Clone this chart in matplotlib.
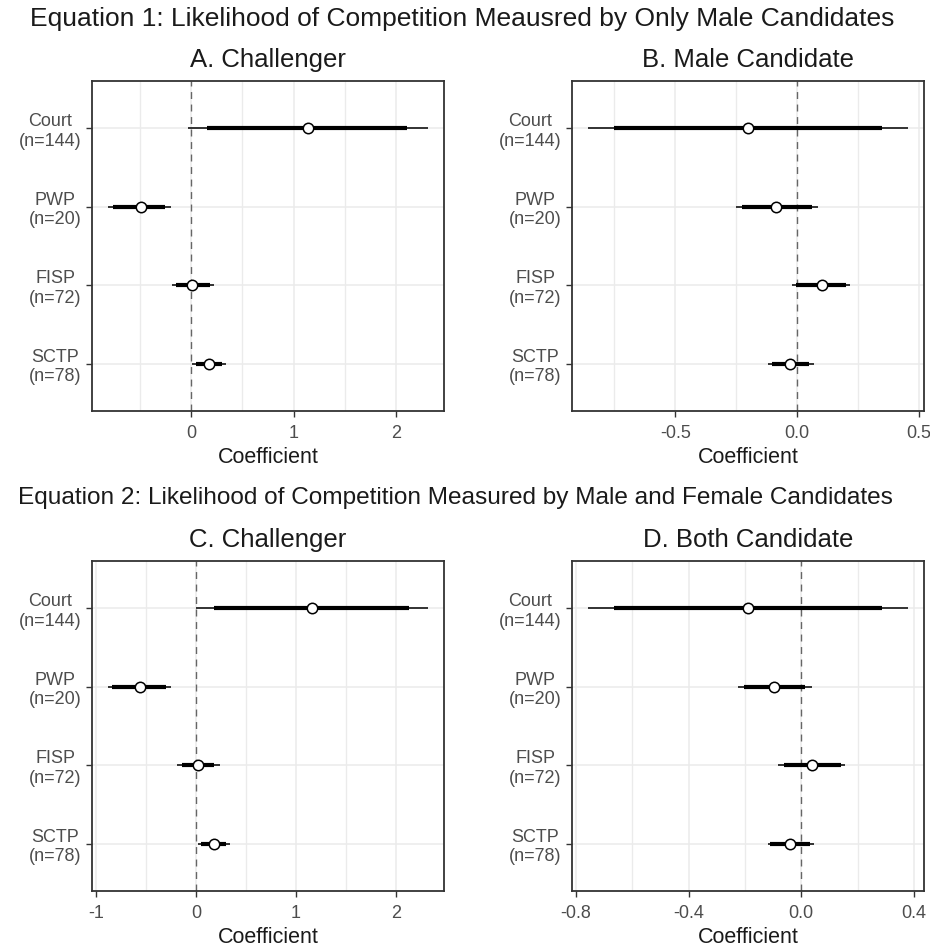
import numpy as np
import matplotlib.pyplot as plt
from matplotlib.ticker import MultipleLocator, FormatStrFormatter

plt.rcParams['font.family'] = ['Liberation Sans', 'DejaVu Sans']
plt.rcParams['axes.unicode_minus'] = False

programs = ["Court\n(n=144)", "PWP\n(n=20)", "FISP\n(n=72)", "SCTP\n(n=78)"]

# A. Challenger (equation 1)
a_est = [1.14, -0.49, 0.01, 0.17]
a_in_lo = [0.16, -0.76, -0.15, 0.05]
a_in_hi = [2.11, -0.25, 0.18, 0.30]
a_out_lo = [-0.03, -0.81, -0.19, 0.01]
a_out_hi = [2.31, -0.20, 0.22, 0.34]

# B. Male Candidate (equation 1)
b_est = [-0.202, -0.086, 0.103, -0.029]
b_in_lo = [-0.752, -0.226, -0.004, -0.104]
b_in_hi = [0.348, 0.060, 0.198, 0.050]
b_out_lo = [-0.858, -0.250, -0.020, -0.120]
b_out_hi = [0.454, 0.085, 0.217, 0.068]

# C. Challenger (equation 2)
c_est = [1.156, -0.56, 0.02, 0.18]
c_in_lo = [0.18, -0.84, -0.14, 0.05]
c_in_hi = [2.13, -0.30, 0.18, 0.30]
c_out_lo = [0.00, -0.88, -0.19, 0.02]
c_out_hi = [2.32, -0.25, 0.24, 0.34]

# D. Both Candidate (equation 2)
d_est = [-0.189, -0.097, 0.038, -0.039]
d_in_lo = [-0.665, -0.203, -0.061, -0.110]
d_in_hi = [0.286, 0.015, 0.140, 0.030]
d_out_lo = [-0.757, -0.225, -0.083, -0.118]
d_out_hi = [0.379, 0.038, 0.154, 0.045]


def coef_panel(ax, title, est, in_lo, in_hi, out_lo, out_hi, major, minor, fmt):
    ypos = np.arange(len(programs), 0, -1)
    ax.hlines(ypos, out_lo, out_hi, color='black', lw=1.1, zorder=3)
    ax.hlines(ypos, in_lo, in_hi, color='black', lw=3.0, zorder=3)
    ax.plot(est, ypos, 'o', ms=7.5, mfc='white', mec='black', mew=1.1, zorder=4)
    ax.axvline(0, color='#666666', lw=1.0, ls=(0, (5, 4)), zorder=2)

    # ggplot-like 5% expansion
    lo, hi = min(out_lo), max(out_hi)
    pad = 0.05 * (hi - lo)
    ax.set_xlim(lo - pad, hi + pad)
    ax.set_ylim(0.4, 4.6)

    ax.xaxis.set_major_locator(MultipleLocator(major))
    ax.xaxis.set_minor_locator(MultipleLocator(minor))
    ax.xaxis.set_major_formatter(FormatStrFormatter(fmt))
    ax.set_yticks(ypos, programs)
    for lab in ax.get_yticklabels():
        lab.set_multialignment('center')

    ax.set_axisbelow(True)
    ax.grid(which='major', color='#EBEBEB', lw=1.1)
    ax.grid(which='minor', axis='x', color='#EBEBEB', lw=1.0)
    ax.tick_params(which='major', length=4.5, width=1.0, color='#333333',
                   labelsize=13, labelcolor='#4D4D4D', pad=3)
    ax.tick_params(axis='x', which='major', pad=5.5)
    ax.tick_params(which='minor', length=0)
    for sp in ax.spines.values():
        sp.set_color('#333333')
        sp.set_linewidth(1.3)

    ax.set_title(title, fontsize=18.5, color='#1A1A1A', pad=10)
    ax.set_xlabel('Coefficient', fontsize=15.5, color='#1A1A1A', labelpad=4)


fig = plt.figure(figsize=(9.3, 9.49), dpi=100)

W, H = 930.0, 949.0
ax_a = fig.add_axes([92 / W, (H - 411) / H, 352 / W, 330 / H])
ax_b = fig.add_axes([572 / W, (H - 411) / H, 352 / W, 330 / H])
ax_c = fig.add_axes([92 / W, (H - 891) / H, 352 / W, 330 / H])
ax_d = fig.add_axes([572 / W, (H - 891) / H, 352 / W, 330 / H])

coef_panel(ax_a, 'A. Challenger', a_est, a_in_lo, a_in_hi, a_out_lo, a_out_hi, 1, 0.5, '%g')
coef_panel(ax_b, 'B. Male Candidate', b_est, b_in_lo, b_in_hi, b_out_lo, b_out_hi, 0.5, 0.25, '%.1f')
coef_panel(ax_c, 'C. Challenger', c_est, c_in_lo, c_in_hi, c_out_lo, c_out_hi, 1, 0.5, '%g')
coef_panel(ax_d, 'D. Both Candidate', d_est, d_in_lo, d_in_hi, d_out_lo, d_out_hi, 0.4, 0.2, '%.1f')

fig.text(462 / W, 1 - 19 / H,
         'Equation 1: Likelihood of Competition Meausred by Only Male Candidates',
         ha='center', va='center', fontsize=19, color='#1A1A1A')
fig.text(455 / W, 1 - 498 / H,
         'Equation 2: Likelihood of Competition Measured by Male and Female Candidates',
         ha='center', va='center', fontsize=17.6, color='#1A1A1A')

fig.savefig('out.png', dpi=100)
